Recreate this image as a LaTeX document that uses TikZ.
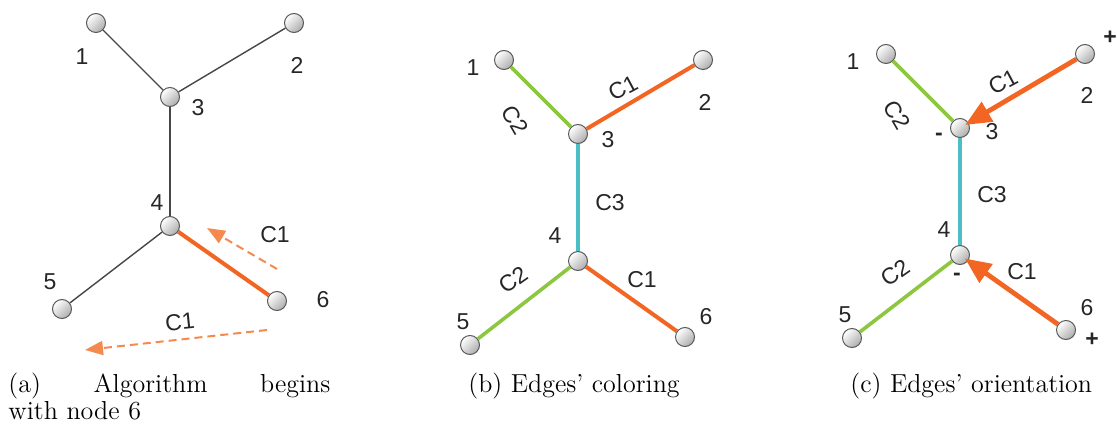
\documentclass[tikz,border=0pt]{standalone}
\usepackage{fontspec}
\usepackage{tikz}
\usetikzlibrary{arrows.meta}
\newfontfamily\lblfont{Liberation Sans}
\definecolor{orng}{RGB}{242,101,34}
\definecolor{lorng}{RGB}{246,138,78}
\definecolor{grn}{RGB}{141,198,63}
\definecolor{cyn}{RGB}{76,190,198}
\definecolor{edg}{RGB}{70,70,70}

\begin{document}
\begin{tikzpicture}[x=0.5pt, y=-0.5pt,
  vtx/.style={circle, draw=black!65, line width=0.5pt, minimum size=9.5pt, inner sep=0pt,
    top color=white, bottom color=gray!65, shading angle=45},
  num/.style={font=\lblfont\fontsize{11.5}{12}\selectfont, text=black!85, inner sep=0pt},
  sgn/.style={num, font=\lblfont\bfseries\fontsize{11.5}{12}\selectfont},
  plain/.style={draw=edg, line width=0.7pt},
  clr1/.style={draw=orng, line width=2pt},
  clr2/.style={draw=grn, line width=1.8pt},
  clr3/.style={draw=cyn, line width=1.8pt},
  dirarr/.style={orng, line width=2.4pt, shorten >=-2pt, -{Triangle[length=13pt, width=11pt]}},
  hint/.style={lorng, line width=1pt, dash pattern=on 4pt off 2.5pt, -{Triangle[length=9pt, width=7pt]}},
  captxt/.style={font=\fontsize{13}{13.5}\selectfont, anchor=north west, inner sep=0pt}]

\useasboundingbox (0,0) rectangle (1117,427);

% (a) start at node 6
\begin{scope}[shift={(170,97)}]
\foreach \n/\x/\y in {1/-74/-74, 2/124/-74, 3/0/0, 4/0/129, 5/-108/212, 6/107/204}
  \node[vtx] (a\n) at (\x,\y) {};
\foreach \n/\x/\y in {1/-88/-40, 2/127/-32, 3/28/11, 4/-13/106, 5/-120/185, 6/153/203}
  \node[num] (a\n t) at (\x,\y) {\n};
\draw[plain] (a1) -- (a3);
\draw[plain] (a2) -- (a3);
\draw[plain] (a3) -- (a4);
\draw[plain] (a4) -- (a5);
\draw[clr1] (a4) -- (a6);
\coordinate (h1s) at (107,172); \coordinate (h1e) at (37,131);
\coordinate (h2s) at (97,233); \coordinate (h2e) at (-85,253);
\draw[hint] (h1s) -- (h1e);
\draw[hint] (h2s) -- (h2e);
\node[num] (ah1) at (105,138) {C1};
\node[num, rotate=6] (ah2) at (10,225) {C1};
\end{scope}

% (b) colouring
\begin{scope}[shift={(578,134)}]
\foreach \n/\x/\y in {1/-74/-74, 2/125/-74, 3/0/0, 4/0/127, 5/-108/211, 6/107/203}
  \node[vtx] (b\n) at (\x,\y) {};
\foreach \n/\x/\y in {1/-105/-66, 2/127/-32, 3/30/6, 4/-23/102, 5/-115/188, 6/128/183}
  \node[num] (b\n t) at (\x,\y) {\n};
\draw[clr2] (b1) -- (b3);
\draw[clr1] (b3) -- (b2);
\draw[clr3] (b3) -- (b4);
\draw[clr2] (b4) -- (b5);
\draw[clr1] (b4) -- (b6);
\node[num, rotate=-60] (bl13) at (-63,-14) {C2};
\node[num, rotate=28] (bl23) at (45,-46) {C1};
\node[num] (bl34) at (32,69) {C3};
\node[num, rotate=35] (bl45) at (-65,146) {C2};
\node[num] (bl46) at (64,146) {C1};
\end{scope}

% (c) orientation
\begin{scope}[shift={(960,128)}]
\foreach \n/\x/\y in {1/-74/-74, 2/125/-74, 3/0/0, 4/0/127, 5/-108/210, 6/106/202}
  \node[vtx] (c\n) at (\x,\y) {};
\foreach \n/\x/\y in {1/-107/-66, 2/127/-33, 3/32/4, 4/-16/102, 5/-115/187, 6/127/180}
  \node[num] (c\n t) at (\x,\y) {\n};
\draw[clr2] (c1) -- (c3);
\draw[clr3] (c3) -- (c4);
\draw[clr2] (c4) -- (c5);
\draw[dirarr] (c2) -- (c3);
\draw[dirarr] (c6) -- (c4);
\node[num, rotate=-60] (cl13) at (-63,-13) {C2};
\node[num, rotate=28] (cl23) at (43,-46) {C1};
\node[num] (cl34) at (32,67) {C3};
\node[num, rotate=35] (cl45) at (-65,145) {C2};
\node[num] (cl46) at (62,144) {C1};
\node[sgn] (c2s) at (150,-90) {+};
\node[sgn] (c6s) at (132,212) {+};
\node[sgn] (c3s) at (-21,9) {-};
\node[sgn] (c4s) at (-3,149) {-};
\end{scope}

% captions
\node[captxt, text width=161pt, align=left] (capa) at (8,373) {(a)\hfill Algorithm\hfill begins\\with node 6};
\node[captxt] (capb) at (468,373) {(b) Edges' coloring};
\node[captxt] (capc) at (850,373) {(c) Edges' orientation};
\end{tikzpicture}
\end{document}
